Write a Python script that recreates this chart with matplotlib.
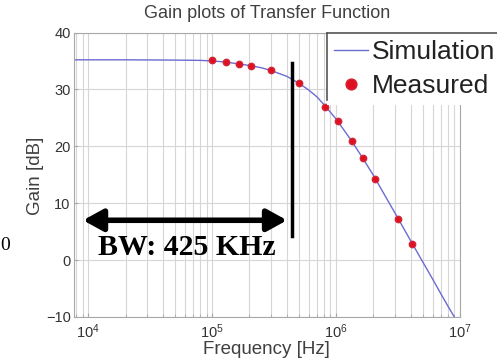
import matplotlib
matplotlib.use('Agg')
import matplotlib.pyplot as plt
from matplotlib.lines import Line2D

plt.rcParams['font.family'] = 'Liberation Sans'
plt.rcParams['mathtext.fontset'] = 'custom'
plt.rcParams['mathtext.rm'] = 'Liberation Sans'
plt.rcParams['mathtext.it'] = 'Liberation Sans:italic'

# simulated transfer function gain
sim_freq = [7.6e3, 1e4, 2e4, 5e4, 8e4, 1e5, 1.3e5, 1.6e5, 2e5, 2.5e5, 3e5, 4e5,
            5e5, 6e5, 7e5, 8e5, 1e6, 1.3e6, 1.6e6, 2e6, 2.5e6, 3e6, 4e6, 5e6,
            6e6, 7e6, 8e6, 9e6, 1e7]
sim_gain = [35.2, 35.2, 35.2, 35.15, 35.1, 35.0, 34.8, 34.5, 34.2, 33.8, 33.3, 32.3,
            31.1, 29.9, 28.7, 27.3, 24.8, 21.3, 18.3, 14.9, 11.2, 8.2, 3.4, -0.3,
            -3.3, -5.9, -8.1, -10.0, -11.8]

# measured points
meas_freq = [1.0e5, 1.3e5, 1.65e5, 2.05e5, 3.0e5, 5.0e5, 8.2e5, 1.03e6, 1.35e6,
             1.65e6, 2.06e6, 3.15e6, 4.07e6]
meas_gain = [35.1, 34.9, 34.4, 34.2, 33.4, 31.1, 26.9, 24.4, 21.0,
             18.0, 14.2, 7.2, 2.8]

fig = plt.figure(figsize=(4.97, 3.59), dpi=100)
ax = fig.add_axes([73.5 / 497, 42 / 359, 386.5 / 497, 284.5 / 359])

ax.semilogx(sim_freq, sim_gain, color='#6b6bd1', lw=1.0, label='Simulation')
ax.semilogx(meas_freq, meas_gain, 'o', color='#e01020', ms=4.6, mec='#d02838',
            label='Measured')

ax.set_xlim(7.6e3, 1e7)
ax.set_ylim(-10, 40)
ax.set_yticks([-10, 0, 10, 20, 30, 40])
ax.grid(True, which='major', color='#d6d6d6', lw=0.8)
ax.grid(True, which='minor', axis='x', color='#d6d6d6', lw=0.8)
ax.set_axisbelow(True)
for s in ax.spines.values():
    s.set_color('#a8a8a8')
    s.set_linewidth(0.8)
ax.tick_params(which='both', direction='in', colors='#a8a8a8', labelcolor='#333333',
               labelsize=10.5)
ax.tick_params(axis='y', pad=2)
ax.tick_params(axis='x', pad=4)
ax.tick_params(which='major', length=3)
ax.tick_params(which='minor', length=2)

fig.text(266.75 / 497, 1 - 14 / 359, 'Gain plots of Transfer Function',
         ha='center', va='center', fontsize=13, color='#404040')
fig.text(266.75 / 497, 1 - 350 / 359, 'Frequency [Hz]',
         ha='center', va='center', fontsize=13.5, color='#404040')
fig.text(35 / 497, 1 - 176 / 359, 'Gain [dB]', rotation=90,
         ha='center', va='center', fontsize=13.5, color='#404040')

# bandwidth marker
ax.plot([4.41e5, 4.41e5], [34.6, 4.2], color='k', lw=2.5)
ax.annotate('', xy=(9.07e3, 7.0), xytext=(4.02e5, 7.0),
            arrowprops=dict(arrowstyle='<|-|>,head_length=0.6,head_width=0.33',
                            color='k', lw=4, mutation_scale=20,
                            shrinkA=0, shrinkB=0))
ax.text(6.2e4, 2.3, 'BW: 425 KHz', ha='center', va='center',
        family='Liberation Serif', fontweight='bold', fontsize=21.5)

fig.text(0.0, 1 - 246 / 359, '0', ha='left', va='center',
         family='Liberation Serif', fontsize=14)

leg = ax.legend(loc='upper left', bbox_to_anchor=(327 / 497, 1 - 33 / 359),
                bbox_transform=fig.transFigure, borderaxespad=0, borderpad=0.26,
                fontsize=19, handlelength=1.3, handletextpad=0.15,
                labelspacing=0.39, markerscale=1.7, frameon=True, fancybox=False,
                edgecolor='none', framealpha=1)
for t in leg.get_texts():
    t.set_color('#222222')

fig.add_artist(Line2D([327 / 497, 1], [1 - 33 / 359] * 2,
                      transform=fig.transFigure, color='#555555', lw=1.2))
fig.add_artist(Line2D([327 / 497] * 2, [1 - 33 / 359, 1 - 100 / 359],
                      transform=fig.transFigure, color='#555555', lw=1.2))

fig.savefig('out.png', dpi=100)
